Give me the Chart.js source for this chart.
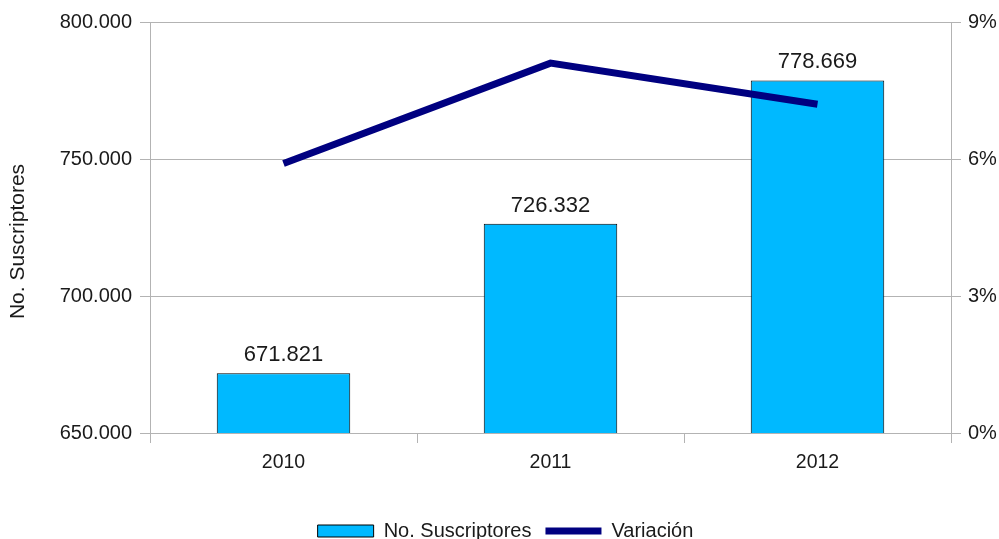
<!DOCTYPE html>
<html>
<head>
<meta charset="utf-8">
<script src="https://cdn.jsdelivr.net/npm/chart.js@4/dist/chart.umd.min.js"></script>
<style>
  html, body { margin: 0; padding: 0; background: #ffffff; }
  #wrap { width: 999px; height: 539px; }
</style>
</head>
<body>
<div id="wrap"><canvas id="c" width="999" height="539"></canvas></div>
<script>
// Subscriber totals per year and their year-on-year variation (%)
const years = ['2010', '2011', '2012'];
const suscriptores = [671821, 726332, 778669];
const variacion = [5.9, 8.1, 7.2];

const seriesNames = ['No. Suscriptores', 'Variación'];
const axisTitle = 'No. Suscriptores';
const barColor = '#00b9ff';
const lineColor = '#000080';
const gridColor = '#b3b3b3';
const textColor = '#1a1a1a';
const fontFamily = '"Liberation Sans", Arial, sans-serif';

function fmtMiles(v) {
  return Math.round(v).toString().replace(/\B(?=(\d{3})+(?!\d))/g, '.');
}

// Value labels above each bar
const barLabels = {
  id: 'barLabels',
  afterDatasetsDraw(chart) {
    const meta = chart.getDatasetMeta(0);
    const ctx = chart.ctx;
    ctx.save();
    ctx.font = '22px ' + fontFamily;
    ctx.fillStyle = textColor;
    ctx.textAlign = 'center';
    ctx.textBaseline = 'alphabetic';
    meta.data.forEach((bar, i) => {
      ctx.fillText(fmtMiles(suscriptores[i]), bar.x, bar.y - 12);
    });
    ctx.restore();
  }
};

// Rotated title beside the left value axis
const leftTitle = {
  id: 'leftTitle',
  afterDraw(chart) {
    const ctx = chart.ctx;
    const area = chart.chartArea;
    ctx.save();
    ctx.translate(18.5, (area.top + area.bottom) / 2 + 14);
    ctx.rotate(-Math.PI / 2);
    ctx.font = '21px ' + fontFamily;
    ctx.fillStyle = textColor;
    ctx.textAlign = 'center';
    ctx.textBaseline = 'middle';
    ctx.fillText(axisTitle, 0, 0);
    ctx.restore();
  }
};

// Place the legend row at the bottom edge
const legendShift = {
  id: 'legendShift',
  afterLayout(chart) {
    const lg = chart.legend;
    if (lg) {
      lg.top += 12; lg.bottom += 12;
      lg.left += 6; lg.right += 6;
    }
  }
};

new Chart(document.getElementById('c'), {
  data: {
    labels: years,
    datasets: [
      {
        type: 'bar',
        label: seriesNames[0],
        data: suscriptores,
        yAxisID: 'y',
        backgroundColor: barColor,
        borderColor: '#000000',
        borderWidth: 1,
        borderSkipped: false,
        barPercentage: 0.5,
        categoryPercentage: 1.0,
        order: 1
      },
      {
        type: 'line',
        label: seriesNames[1],
        data: variacion,
        yAxisID: 'y1',
        borderColor: lineColor,
        backgroundColor: lineColor,
        borderWidth: 7,
        pointRadius: 0,
        pointHoverRadius: 0,
        tension: 0,
        fill: false,
        order: 0
      }
    ]
  },
  options: {
    responsive: false,
    devicePixelRatio: 1,
    animation: false,
    layout: { padding: { top: 22, left: 0, right: 0, bottom: 0 } },
    plugins: {
      tooltip: { enabled: false },
      legend: {
        position: 'bottom',
        labels: {
          usePointStyle: true,
          pointStyleWidth: 56,
          boxHeight: 12,
          padding: 14,
          color: textColor,
          font: { size: 20, family: fontFamily },
          generateLabels() {
            return [
              { text: seriesNames[0], pointStyle: 'rect', fillStyle: barColor, strokeStyle: '#000000', lineWidth: 1, fontColor: textColor, datasetIndex: 0 },
              { text: seriesNames[1], pointStyle: 'line', fillStyle: lineColor, strokeStyle: lineColor, lineWidth: 7, fontColor: textColor, datasetIndex: 1 }
            ];
          }
        }
      }
    },
    scales: {
      x: {
        offset: true,
        grid: { offset: true, drawOnChartArea: false, color: gridColor, tickLength: 10 },
        border: { color: gridColor },
        ticks: { color: textColor, font: { size: 19.5, family: fontFamily }, padding: 8 },
        afterFit(scale) {
          const lh = scale.chart.legend ? scale.chart.legend.height : 0;
          scale.height = 539 - 433 - lh;
        }
      },
      y: {
        position: 'left',
        min: 650000,
        max: 800000,
        grid: { color: gridColor, tickLength: 10 },
        border: { color: gridColor },
        ticks: {
          stepSize: 50000,
          color: textColor,
          padding: 8,
          font: { size: 20, family: fontFamily },
          callback: (v) => fmtMiles(v)
        },
        afterFit(scale) { scale.width = 150; }
      },
      y1: {
        position: 'right',
        min: 0,
        max: 9,
        grid: { drawOnChartArea: false, color: gridColor, tickLength: 10 },
        border: { color: gridColor },
        ticks: {
          stepSize: 3,
          color: textColor,
          padding: 7,
          font: { size: 20, family: fontFamily },
          callback: (v) => v + '%'
        },
        afterFit(scale) { scale.width = 48; }
      }
    }
  },
  plugins: [barLabels, leftTitle, legendShift]
});
</script>
</body>
</html>
